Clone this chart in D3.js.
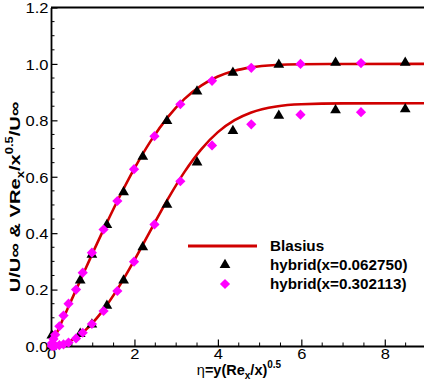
<!DOCTYPE html>
<html>
<head>
<meta charset="utf-8">
<script src="https://cdn.jsdelivr.net/npm/d3@7"></script>
<style>
    body { margin: 0; background: #fff; }
    svg { display: block; }
    text { font-family: "Liberation Sans", Arial, sans-serif; fill: #000; }
</style>
</head>
<body>
<svg id="chart" width="424" height="381"></svg>
<script>
// Blasius similarity solution, U/Uinf and V Re_x^0.5/Uinf against eta
const blasiusEta = [0, 0.4, 0.8, 1.2, 1.6, 2.0, 2.4, 2.8, 3.2, 3.6, 4.0, 4.4, 4.8, 5.4, 6.0, 7.0, 9.0];
const blasiusU = [0, 0.1328, 0.2647, 0.3938, 0.5168, 0.6298, 0.7290, 0.8115, 0.8761, 0.9233, 0.9555, 0.9759, 0.9878, 0.9962, 0.9990, 0.9999, 1.0];
const blasiusV = [0, 0.0133, 0.0528, 0.1173, 0.2033, 0.3048, 0.4136, 0.5206, 0.6172, 0.6972, 0.7582, 0.8007, 0.8280, 0.8492, 0.8571, 0.8601, 0.8604];

// hybrid(x=0.062750)
const hybridAEta = [0.02, 0.70, 0.98, 1.34, 1.74, 2.20, 2.78, 3.50, 4.36, 5.46, 6.82, 8.49];
const hybridAU = [0.039, 0.234, 0.326, 0.431, 0.547, 0.673, 0.800, 0.904, 0.971, 0.999, 1.006, 1.006];
const hybridAV = [0.000, 0.045, 0.078, 0.145, 0.234, 0.352, 0.503, 0.653, 0.764, 0.818, 0.838, 0.841];

// hybrid(x=0.302113)
const hybridBEta = [0.02, 0.06, 0.10, 0.20, 0.30, 0.42, 0.60, 0.76, 0.98, 1.26, 1.59, 1.99, 2.48, 3.10, 3.86, 4.80, 5.98, 7.43];
const hybridBU = [0.010, 0.025, 0.040, 0.070, 0.108, 0.150, 0.200, 0.260, 0.331, 0.413, 0.514, 0.627, 0.744, 0.857, 0.940, 0.986, 1.000, 1.003];
const hybridBV = [0.000, 0.000, 0.001, 0.003, 0.006, 0.012, 0.027, 0.047, 0.078, 0.124, 0.195, 0.299, 0.431, 0.584, 0.711, 0.786, 0.820, 0.829];

const xTicks = [0, 2, 4, 6, 8];
const yTicks = [0.0, 0.2, 0.4, 0.6, 0.8, 1.0, 1.2];

const legendNames = ["Blasius", "hybrid(x=0.062750)", "hybrid(x=0.302113)"];

class ProfileChart {

    constructor(elementId) {
        this.svg = d3.select('#' + elementId);
        this.lineColor = "#d00000";
        this.left = 51;
        this.right = 426.5;
        this.top = 7.5;
        this.bottom = 346;
    }

    init() {
        this.xScale = d3.scaleLinear().domain([0, 9]).range([this.left, this.right]);
        this.yScale = d3.scaleLinear().domain([0, 1.2]).range([this.bottom, this.top]);

        this.svg.append("defs")
            .append("clipPath")
            .attr("id", "plot-clip")
            .append("rect")
            .attr("x", this.left)
            .attr("y", this.top)
            .attr("width", this.right - this.left)
            .attr("height", this.bottom - this.top);
    }

    drawAxes() {
        // minor ticks first, the axis draws the major ones on top
        let minorX = d3.range(0, 9.01, 0.5).filter(d => d % 2 !== 0);
        let minorY = d3.range(0, 1.201, 0.05).filter(d => Math.abs(d * 5 - Math.round(d * 5)) > 1e-6);

        let minor = this.svg.append("g").attr("stroke", "#000").attr("stroke-width", 1);
        minor.selectAll(".mx").data(minorX).enter().append("line")
            .attr("x1", d => this.xScale(d)).attr("x2", d => this.xScale(d))
            .attr("y1", this.bottom).attr("y2", this.bottom - 3.5);
        minor.selectAll(".my").data(minorY).enter().append("line")
            .attr("y1", d => this.yScale(d)).attr("y2", d => this.yScale(d))
            .attr("x1", this.left).attr("x2", this.left + 3.5);

        let xAxis = this.svg.append("g")
            .attr("transform", "translate(0," + this.bottom + ")")
            .call(d3.axisBottom(this.xScale).tickValues(xTicks).tickSize(-6.5).tickSizeOuter(0).tickPadding(0)
                .tickFormat(d3.format("d")));
        xAxis.selectAll("text")
            .attr("y", 12.5)
            .attr("dy", 0)
            .attr("transform", "scale(1.1,1)")
            .style("font-size", "15px");

        let yAxis = this.svg.append("g")
            .attr("transform", "translate(" + this.left + ",0)")
            .call(d3.axisLeft(this.yScale).tickValues(yTicks).tickSize(-6.5).tickSizeOuter(0)
                .tickFormat(d3.format(".1f")));
        yAxis.selectAll("text")
            .attr("x", -2.3)
            .attr("dy", "0.36em")
            .attr("transform", "scale(1.1,1)")
            .style("font-size", "15px");

        this.svg.selectAll(".domain").attr("stroke-width", 1.8);
        this.svg.selectAll(".tick line").attr("stroke-width", 1.2);

        // frame line along the top
        this.svg.append("line")
            .attr("x1", this.left).attr("x2", this.right)
            .attr("y1", this.top).attr("y2", this.top)
            .attr("stroke", "#000").attr("stroke-width", 1.8);

        this.svg.append("text")
            .attr("x", 239)
            .attr("y", 374.5)
            .attr("text-anchor", "middle")
            .style("font-size", "14.5px")
            .style("font-weight", "bold")
            .call(t => {
                t.append("tspan").style("font-weight", "normal").text("η");
                t.append("tspan").text("=y(Re");
                t.append("tspan").attr("dy", 4).style("font-size", "10px").text("x");
                t.append("tspan").attr("dy", -4).text("/x)");
                t.append("tspan").attr("dy", -7).style("font-size", "10px").text("0.5");
            });

        // stretched along its baseline like the original export
        this.svg.append("text")
            .attr("transform", "translate(20,197) rotate(-90) scale(1.3,1)")
            .attr("text-anchor", "middle")
            .style("font-size", "15.5px")
            .style("font-weight", "bold")
            .call(t => {
                t.append("tspan").text("U/U∞ & VRe");
                t.append("tspan").attr("dy", 4).style("font-size", "10px").text("x");
                t.append("tspan").attr("dy", -4).text("/x");
                t.append("tspan").attr("dy", -7).style("font-size", "10px").text("0.5");
                t.append("tspan").attr("dy", 7).text("/U∞");
            });
    }

    drawCurves() {
        let curves = [blasiusU, blasiusV];
        let line = d3.line()
            .x((d, i) => this.xScale(blasiusEta[i]))
            .y(d => this.yScale(d))
            .curve(d3.curveMonotoneX);

        this.svg.append("g")
            .attr("clip-path", "url(#plot-clip)")
            .selectAll("path")
            .data(curves)
            .enter()
            .append("path")
            .attr("d", line)
            .attr("fill", "none")
            .attr("stroke", this.lineColor)
            .attr("stroke-width", 2.6);
    }

    drawSymbols() {
        let triangle = d3.symbol().type(d3.symbolTriangle).size(50);
        let diamond = d3.symbol().type(d3.symbolSquare).size(52);

        let pointsA = hybridAEta.map((e, i) => [e, hybridAU[i]])
            .concat(hybridAEta.map((e, i) => [e, hybridAV[i]]));
        let pointsB = hybridBEta.map((e, i) => [e, hybridBU[i]])
            .concat(hybridBEta.map((e, i) => [e, hybridBV[i]]));

        this.svg.append("g")
            .selectAll("path")
            .data(pointsA)
            .enter()
            .append("path")
            .attr("d", triangle)
            .attr("transform", d => "translate(" + this.xScale(d[0]) + "," + (this.yScale(d[1]) + 0.5) + ")")
            .attr("fill", "#000");

        this.svg.append("g")
            .selectAll("path")
            .data(pointsB)
            .enter()
            .append("path")
            .attr("d", diamond)
            .attr("transform", d => "translate(" + this.xScale(d[0]) + "," + this.yScale(d[1]) + ") rotate(45)")
            .attr("fill", "#ff00ff");
    }

    drawLegend() {
        let legend = this.svg.append("g")
            .attr("class", "legend")
            .attr("transform", "translate(188,246)");

        legend.append("line")
            .attr("x1", 0).attr("x2", 69)
            .attr("y1", 0).attr("y2", 0)
            .attr("stroke", this.lineColor)
            .attr("stroke-width", 2.8);

        legend.append("path")
            .attr("d", d3.symbol().type(d3.symbolTriangle).size(50))
            .attr("transform", "translate(37,19)")
            .attr("fill", "#000");

        legend.append("path")
            .attr("d", d3.symbol().type(d3.symbolSquare).size(52))
            .attr("transform", "translate(37,38) rotate(45)")
            .attr("fill", "#ff00ff");

        legend.selectAll("text")
            .data(legendNames)
            .enter()
            .append("text")
            .attr("transform", (d, i) => "translate(82," + (5 + i * 19) + ") scale(1.05,1)")
            .style("font-size", "14.5px")
            .style("font-weight", "bold")
            .text(d => d);
    }

    draw() {
        this.init();
        this.drawCurves();
        this.drawAxes();
        this.drawSymbols();
        this.drawLegend();
    }
}

let chart = new ProfileChart("chart");
chart.draw();
</script>
</body>
</html>
